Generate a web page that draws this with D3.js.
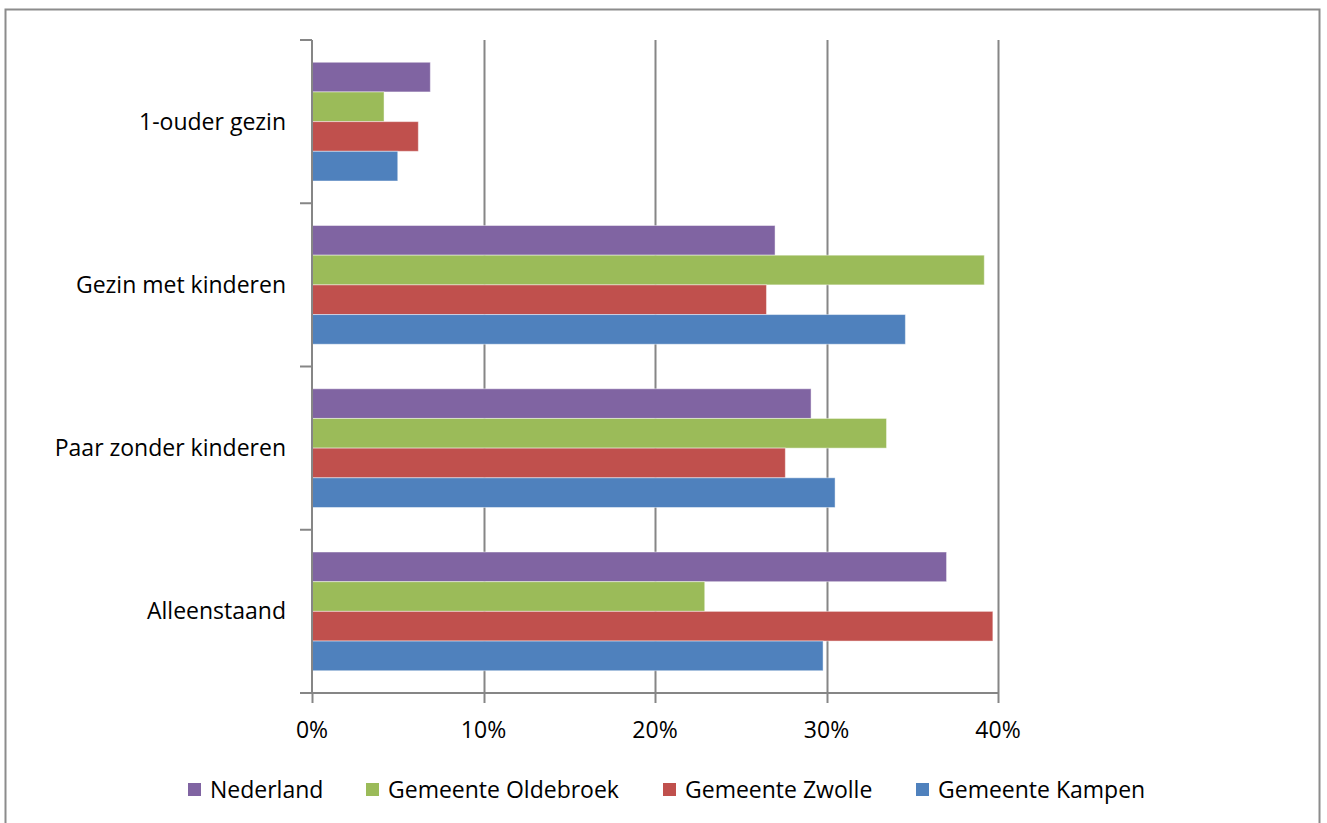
<!DOCTYPE html>
<html>
<head>
<meta charset="utf-8">
<script src="https://cdn.jsdelivr.net/npm/d3@7/dist/d3.min.js"></script>
<style>
  html, body { margin: 0; padding: 0; background: #fff; }
  svg { display: block; }
  text { font-family: "Open Sans", Lato, sans-serif; fill: #000; }
</style>
</head>
<body>
<svg id="chart" width="1327" height="823"></svg>
<script>
// Household types (top to bottom) and regions
const categories = ["1-ouder gezin", "Gezin met kinderen", "Paar zonder kinderen", "Alleenstaand"];
const seriesNames = ["Nederland", "Gemeente Oldebroek", "Gemeente Zwolle", "Gemeente Kampen"];
const seriesColors = ["#8064A2", "#9BBB59", "#C0504D", "#4F81BD"];

// Share of households (%) per category, one array per region
const nederland = [6.9, 27.0, 29.1, 37.0];
const oldebroek = [4.2, 39.2, 33.5, 22.9];
const zwolle    = [6.2, 26.5, 27.6, 39.7];
const kampen    = [5.0, 34.6, 30.5, 29.8];

const xTicks = [0, 10, 20, 30, 40];
const xTickLabels = ["0%", "10%", "20%", "30%", "40%"];

const seriesValues = [nederland, oldebroek, zwolle, kampen];

const svg = d3.select("#chart");
const plotLeft = 312, plotRight = 998, plotTop = 40, plotBottom = 693;
const gridColor = "#868686";
const fontSize = 23;

// Outer chart frame
svg.append("rect")
  .attr("x", 5.5).attr("y", 9.5)
  .attr("width", 1314).attr("height", 830)
  .attr("fill", "none").attr("stroke", "#8c8c8c").attr("stroke-width", 2);

const x = d3.scaleLinear().domain([0, 40]).range([plotLeft, plotRight]);
const catScale = d3.scaleBand().domain(categories).range([plotTop, plotBottom]);
const band = catScale.bandwidth();
// Excel-style gap width of 150%: four bars plus 1.5 bar of gap per category
const barH = band / 5.5;
const groupOffset = (band - 4 * barH) / 2;
const seriesScale = d3.scaleBand().domain(d3.range(seriesNames.length))
  .range([groupOffset, groupOffset + 4 * barH]);

// Vertical gridlines
svg.append("g").selectAll("line")
  .data(xTicks.filter(d => d > 0))
  .join("line")
  .attr("x1", d => Math.round(x(d)) + 0.5).attr("x2", d => Math.round(x(d)) + 0.5)
  .attr("y1", plotTop).attr("y2", plotBottom)
  .attr("stroke", gridColor).attr("stroke-width", 2);

// Bars
const rows = [];
categories.forEach((c, ci) => {
  seriesValues.forEach((vals, si) => {
    rows.push({ cat: c, si, v: vals[ci] });
  });
});
svg.append("g").selectAll("rect")
  .data(rows)
  .join("rect")
  .attr("x", x(0))
  .attr("y", d => catScale(d.cat) + seriesScale(d.si))
  .attr("width", d => x(d.v) - x(0))
  .attr("height", seriesScale.bandwidth())
  .attr("fill", d => seriesColors[d.si])
  .attr("stroke", "rgba(255,255,255,0.45)")
  .attr("stroke-width", 1);

// Category axis (vertical line with boundary ticks)
const yAxisG = svg.append("g");
yAxisG.append("line")
  .attr("x1", plotLeft).attr("x2", plotLeft).attr("y1", plotTop).attr("y2", plotBottom)
  .attr("stroke", gridColor).attr("stroke-width", 2);
yAxisG.selectAll("line.tick")
  .data(d3.range(categories.length + 1))
  .join("line").attr("class", "tick")
  .attr("x1", plotLeft - 12).attr("x2", plotLeft)
  .attr("y1", i => plotTop + i * band).attr("y2", i => plotTop + i * band)
  .attr("stroke", gridColor).attr("stroke-width", 2);
yAxisG.selectAll("text")
  .data(categories)
  .join("text")
  .attr("x", 286)
  .attr("y", d => catScale(d) + band / 2)
  .attr("dy", "0.35em")
  .attr("text-anchor", "end")
  .attr("font-size", fontSize)
  .text(d => d);

// Value axis
const xAxisG = svg.append("g");
xAxisG.append("line")
  .attr("x1", plotLeft - 12).attr("x2", plotRight + 1).attr("y1", plotBottom).attr("y2", plotBottom)
  .attr("stroke", gridColor).attr("stroke-width", 2);
xAxisG.selectAll("line.tick")
  .data(xTicks)
  .join("line").attr("class", "tick")
  .attr("x1", d => Math.round(x(d)) + 0.5).attr("x2", d => Math.round(x(d)) + 0.5)
  .attr("y1", plotBottom).attr("y2", plotBottom + 10)
  .attr("stroke", gridColor).attr("stroke-width", 2);
xAxisG.selectAll("text")
  .data(xTicks)
  .join("text")
  .attr("x", d => x(d))
  .attr("y", 730)
  .attr("dy", "0.35em")
  .attr("text-anchor", "middle")
  .attr("font-size", fontSize)
  .text((d, i) => xTickLabels[i]);

// Legend
const legendX = [188, 366, 663, 916];
const lg = svg.append("g").selectAll("g")
  .data(seriesNames)
  .join("g")
  .attr("transform", (d, i) => `translate(${legendX[i]},790)`);
lg.append("rect")
  .attr("x", 0).attr("y", -7).attr("width", 13).attr("height", 13)
  .attr("fill", (d, i) => seriesColors[i]);
lg.append("text")
  .attr("x", 22).attr("y", 0).attr("dy", "0.35em")
  .attr("font-size", fontSize)
  .text(d => d);
</script>
</body>
</html>
